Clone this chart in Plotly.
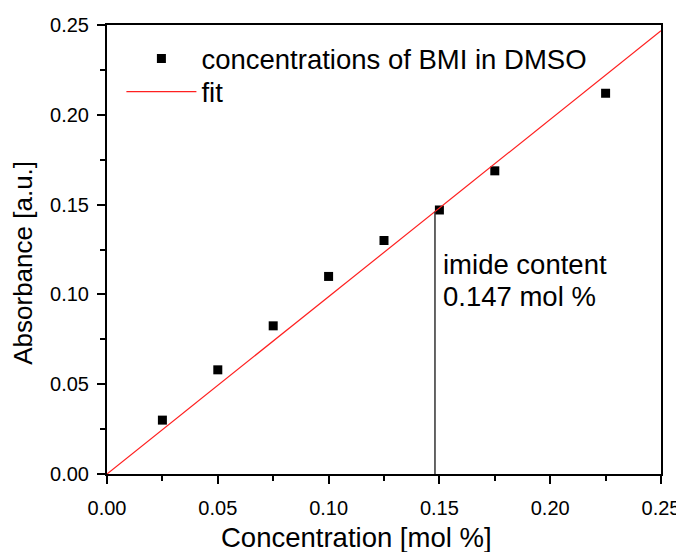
import plotly.graph_objects as go

# Data
conc = [0.025, 0.05, 0.075, 0.10, 0.125, 0.15, 0.175, 0.225]
absorb = [0.030, 0.058, 0.0825, 0.110, 0.130, 0.147, 0.1688, 0.212]
fit_x = [0.0, 0.25]
fit_y = [0.0, 0.2468]
imide_x = [0.148, 0.148]
imide_y = [0.0, 0.146]
x_ticks = [0.00, 0.05, 0.10, 0.15, 0.20, 0.25]
y_ticks = [0.00, 0.05, 0.10, 0.15, 0.20, 0.25]

FONT = "Liberation Sans, Arial, sans-serif"
BIG = 27.5

fig = go.Figure()
fig.add_trace(go.Scatter(
    x=conc, y=absorb, mode="markers", name="concentrations of BMI in DMSO",
    marker=dict(symbol="square", size=9, color="black"), legend="legend",
))
fig.add_trace(go.Scatter(
    x=fit_x, y=fit_y, mode="lines", name="fit",
    line=dict(color="#ff2020", width=1.2), legend="legend2",
))
fig.add_trace(go.Scatter(
    x=imide_x, y=imide_y, mode="lines", showlegend=False,
    line=dict(color="#333333", width=1.5),
))

axis_common = dict(
    range=[0, 0.25], showline=True, linecolor="black", linewidth=2, mirror=True,
    ticks="outside", ticklen=8, tickwidth=2, tickcolor="black",
    showgrid=False, zeroline=False, tickformat=".2f", automargin=False,
    tickfont=dict(family=FONT, size=20, color="black"),
    minor=dict(ticks="outside", ticklen=5, tickwidth=2, tickcolor="black", dtick=0.025),
)

fig.update_xaxes(tickvals=x_ticks, ticklabelstandoff=7, **axis_common)
fig.update_yaxes(tickvals=y_ticks, ticklabelstandoff=4, **axis_common)

legend_common = dict(
    xanchor="left", yanchor="top",
    bgcolor="rgba(0,0,0,0)", borderwidth=0,
    font=dict(family=FONT, size=BIG, color="black"),
    itemwidth=70,
)

fig.update_layout(
    width=676, height=544,
    margin=dict(l=99, r=23, t=17, b=78, autoexpand=False),
    paper_bgcolor="white", plot_bgcolor="white",
    font=dict(family=FONT, color="black"),
    showlegend=True,
    legend=dict(x=0.026, y=0.9795, **legend_common),
    legend2=dict(x=0.026, y=0.906, **legend_common),
    annotations=[
        dict(text="Concentration [mol %]", xref="paper", yref="paper",
             x=0.451, y=-0.142, xanchor="center", yanchor="middle",
             showarrow=False, font=dict(family=FONT, size=BIG, color="black")),
        dict(text="Absorbance [a.u.]", xref="paper", yref="paper",
             x=-0.152, y=0.47, xanchor="center", yanchor="middle", textangle=-90,
             showarrow=False, font=dict(family=FONT, size=26, color="black")),
        dict(text="imide content", xref="x", yref="y",
             x=0.1505, y=0.1169, xanchor="left", yanchor="middle",
             showarrow=False, font=dict(family=FONT, size=BIG, color="black")),
        dict(text="0.147 mol %", xref="x", yref="y",
             x=0.1505, y=0.0991, xanchor="left", yanchor="middle",
             showarrow=False, font=dict(family=FONT, size=BIG, color="black")),
    ],
)

fig.write_html("out.html")
